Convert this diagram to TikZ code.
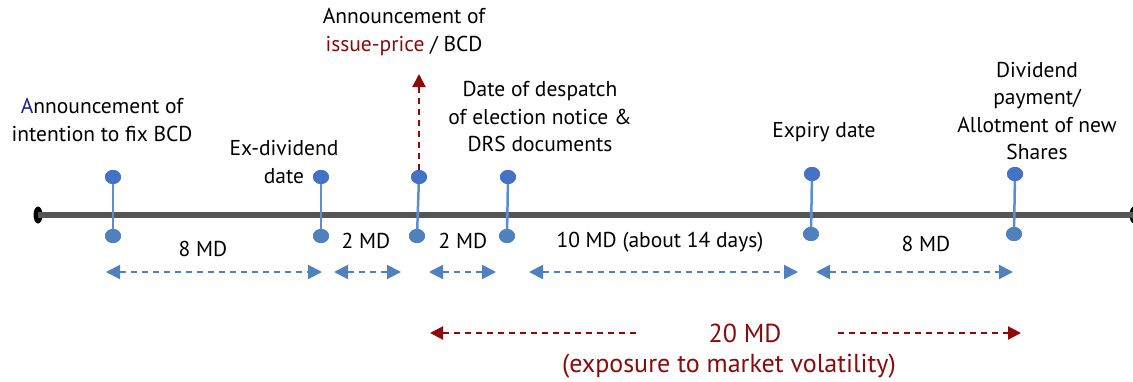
\documentclass[tikz,border=0pt]{standalone}
\usepackage{fontspec}
\setmainfont{PT Sans}
\usetikzlibrary{arrows.meta,shapes.geometric}
\definecolor{axisgray}{HTML}{555555}
\definecolor{dottop}{HTML}{4472C4}
\definecolor{dotbot}{HTML}{4F81BD}
\definecolor{stem}{HTML}{5B8ED0}
\definecolor{span}{HTML}{4F81BD}
\definecolor{risk}{HTML}{8B0A0A}
\definecolor{navy}{HTML}{1F1F8F}
\tikzset{
  lbl/.style={align=center, font=\fontsize{21.5}{27.5}\selectfont, inner sep=0pt},
  biglbl/.style={align=center, font=\fontsize{26}{30}\selectfont, inner sep=0pt, text=risk},
  topdot/.style={ellipse, fill=dottop, minimum width=16pt, minimum height=14pt, inner sep=0pt},
  botdot/.style={ellipse, fill=dotbot, minimum width=16pt, minimum height=14pt, inner sep=0pt},
  enddot/.style={ellipse, fill=black, minimum width=9pt, minimum height=17pt, inner sep=0pt},
  stemline/.style={stem, line width=2.5pt},
  spanarrow/.style={span, line width=2pt, dash pattern=on 6pt off 5pt,
    {Triangle[length=14pt,width=14pt]}-{Triangle[length=14pt,width=14pt]}},
  riskarrow/.style={risk, line width=2pt, dash pattern=on 6pt off 5pt,
    -{Triangle[length=13pt,width=13pt]}},
}
\begin{document}
\begin{tikzpicture}[x=1pt,y=-1pt]
\useasboundingbox (0,0) rectangle (1133,381);
% time axis
\node[enddot] (start) at (38,215) {};
\node[enddot] (end) at (1134,215) {};
\draw[axisgray, line width=6pt] (start.center) -- (end.center);

% event markers
\foreach \n/\xt/\yt/\xb/\yb in {a/113/177/113/236, b/321/177/321/236, c/419/177/417/236,
                                 d/508/177/507/236, e/812/174/811/234, f/1015/174/1014/234}{
  \node[topdot] (\n t) at (\xt,\yt) {};
  \node[botdot] (\n b) at (\xb,\yb) {};
  \draw[stemline] (\n t.center) -- (\n b.center);
  \node[topdot] at (\xt,\yt) {};
  \node[botdot] at (\xb,\yb) {};
}

% event labels
\node[lbl] (la) at (102,120) {{\color{navy}A}nnouncement of\\intention to fix BCD};
\node[lbl] (lb) at (284,162) {Ex-dividend\\date};
\node[lbl] (lc) at (404,32) {Announcement of\\{\color{risk}issue-price} / BCD};
\node[lbl] (ld) at (540,117) {Date of despatch\\of election notice \&\\DRS documents};
\node[lbl] (le) at (824,132) {Expiry date};
\node[lbl] (lf) at (1037,111) {Dividend\\payment/\\Allotment of new\\Shares};

\coordinate (ctip) at (419,74);
\draw[riskarrow] (ct.north) -- (ctip);

% interval lengths
\node[lbl] (m1) at (203,249) {8 MD};
\node[lbl] (m2) at (366,241) {2 MD};
\node[lbl] (m3) at (463,241) {2 MD};
\node[lbl] (m4) at (660,242) {10 MD (about 14 days)};
\node[lbl] (m5) at (926,244) {8 MD};

\coordinate (s1a) at (106,272); \coordinate (s1b) at (322,272);
\coordinate (s2a) at (334,272); \coordinate (s2b) at (401,272);
\coordinate (s3a) at (429,272); \coordinate (s3b) at (496,272);
\coordinate (s4a) at (529,272); \coordinate (s4b) at (798,272);
\coordinate (s5a) at (816,272); \coordinate (s5b) at (1013,272);
\foreach \i in {1,...,5}{\draw[spanarrow] (s\i a) -- (s\i b);}

% exposure window
\node[biglbl] (w) at (745,333) {20 MD};
\node[biglbl] (wl) at (729,366) {(exposure to market volatility)};
\coordinate (wa) at (430,333); \coordinate (wa0) at (636,333);
\coordinate (wb) at (1021,333); \coordinate (wb0) at (838,333);
\draw[riskarrow] (wa0) -- (wa);
\draw[riskarrow] (wb0) -- (wb);
\end{tikzpicture}
\end{document}
